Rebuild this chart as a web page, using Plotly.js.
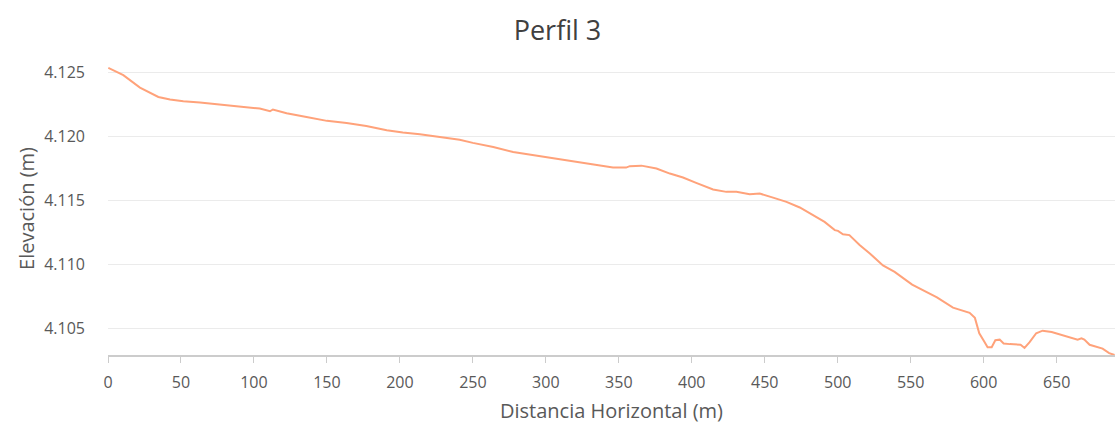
<!DOCTYPE html>
<html>
<head>
<meta charset="utf-8">
<script src="https://cdn.plot.ly/plotly-3.0.1.min.js"></script>
<style>html,body{margin:0;padding:0;background:#fff}#chart{width:1115px;height:430px}</style>
</head>
<body>
<div id="chart"></div>
<script>
const chartTitle = "Perfil 3";
const xTitle = "Distancia Horizontal (m)";
const yTitle = "Elevación (m)";

const distancia = [0.2, 10.5, 21.9, 34.5, 42.5, 51.6, 63, 74.4, 88, 104, 111, 113, 122.4, 136, 150, 163.5, 177, 191, 202, 213.7, 227, 241, 250, 264, 277.6, 286.8, 302.7, 318.7, 332.4, 346, 355, 357.5, 365.5, 375.8, 385, 394, 403, 414.6, 423.7, 430.6, 439.7, 446.6, 455.7, 464.9, 474, 484, 491, 498, 500.2, 503.6, 508, 515, 522, 531, 539, 551, 558, 568, 579, 585, 590.4, 594, 597, 600.7, 602.7, 605.5, 608, 611, 613.7, 618, 622.6, 625.3, 628, 631.5, 636, 640.4, 646.6, 650.7, 659, 664.4, 667, 669, 672.6, 678, 681.5, 686, 689.7];
const elevacion = [4125.34, 4124.77, 4123.8, 4123.07, 4122.87, 4122.73, 4122.63, 4122.48, 4122.34, 4122.16, 4121.95, 4122.09, 4121.8, 4121.5, 4121.2, 4121.04, 4120.8, 4120.47, 4120.29, 4120.16, 4119.95, 4119.72, 4119.48, 4119.16, 4118.77, 4118.6, 4118.33, 4118.05, 4117.8, 4117.55, 4117.55, 4117.66, 4117.7, 4117.48, 4117.08, 4116.77, 4116.35, 4115.84, 4115.65, 4115.65, 4115.47, 4115.52, 4115.2, 4114.87, 4114.43, 4113.8, 4113.3, 4112.66, 4112.6, 4112.34, 4112.27, 4111.5, 4110.84, 4109.9, 4109.4, 4108.4, 4108.0, 4107.4, 4106.6, 4106.4, 4106.2, 4105.8, 4104.6, 4103.9, 4103.5, 4103.5, 4104.05, 4104.1, 4103.8, 4103.75, 4103.75, 4103.7, 4103.45, 4103.9, 4104.6, 4104.8, 4104.7, 4104.55, 4104.3, 4104.1, 4104.2, 4104.1, 4103.7, 4103.5, 4103.4, 4103.05, 4102.9];

const xTicks = [0, 50, 100, 150, 200, 250, 300, 350, 400, 450, 500, 550, 600, 650];
const yTicks = [4105, 4110, 4115, 4120, 4125];

const trace = {
  x: distancia, y: elevacion, type: 'scatter', mode: 'lines',
  line: {color: '#FFA27A', width: 2}, hoverinfo: 'x+y'
};

const layout = {
  width: 1115, height: 430,
  margin: {l: 108, r: 0, t: 62, b: 75},
  paper_bgcolor: '#fff', plot_bgcolor: '#fff',
  separators: ',.',
  font: {family: 'Open Sans, sans-serif', color: '#595959'},
  showlegend: false,
  title: {text: chartTitle, x: 0.5, xanchor: 'center', y: 0.93, yanchor: 'middle',
          font: {size: 27, color: '#404040', family: 'Open Sans, sans-serif'}},
  xaxis: {
    range: [0, 690], tickvals: xTicks, ticktext: xTicks.map(String),
    showgrid: false, zeroline: false,
    showline: true, linecolor: '#cccccc', linewidth: 2,
    ticks: 'outside', ticklen: 6, tickcolor: '#cccccc', tickwidth: 1,
    ticklabelstandoff: 6,
    tickfont: {size: 16, color: '#595959'},
    title: {text: xTitle, font: {size: 20, color: '#595959'}, standoff: 12}
  },
  yaxis: {
    range: [4102.9, 4125.8], tickvals: yTicks, tickformat: ',d',
    showgrid: true, gridcolor: '#ebebeb', gridwidth: 1,
    zeroline: false, showline: false, ticks: '',
    ticklabelstandoff: 22,
    tickfont: {size: 16, color: '#595959'},
    title: {text: yTitle, font: {size: 20, color: '#595959'}, standoff: 4}
  }
};

Plotly.newPlot('chart', [trace], layout, {staticPlot: true, displayModeBar: false});
</script>
</body>
</html>
